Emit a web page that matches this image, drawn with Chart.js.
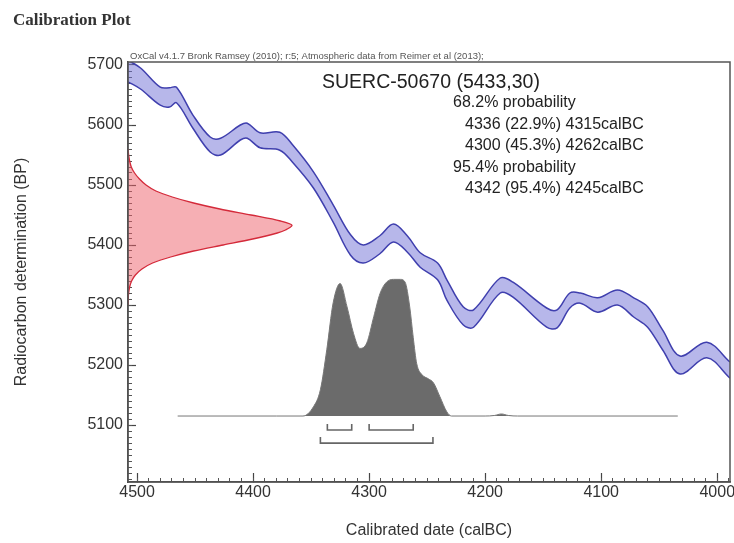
<!DOCTYPE html>
<html>
<head>
<meta charset="utf-8">
<title>Calibration Plot</title>
<script src="https://cdn.jsdelivr.net/npm/chart.js@4.4.1/dist/chart.umd.min.js"></script>
<style>
    body { margin: 0; background: #fff; }
    #wrap { width: 734px; height: 543px; }
</style>
</head>
<body>
<div id="wrap"><canvas id="calPlot" width="734" height="543"></canvas></div>
<script>
// calibration curve band (calBC, BP)
const curveYears = [4507.8, 4497, 4480, 4472, 4466, 4452, 4437, 4428, 4411, 4405, 4394, 4377, 4366, 4348, 4331, 4316, 4305, 4291, 4279, 4267, 4256, 4241, 4233, 4219, 4210, 4187, 4176, 4147, 4138, 4127, 4118, 4103, 4086, 4072, 4060, 4047, 4032, 4009, 3989];
const curveUpper = [5708, 5695, 5663, 5662, 5663, 5617, 5580, 5578, 5600, 5603, 5587, 5588, 5567, 5522, 5467, 5417, 5400, 5415, 5435, 5415, 5387, 5370, 5342, 5297, 5292, 5345, 5338, 5295, 5292, 5320, 5320, 5312, 5325, 5312, 5297, 5258, 5215, 5238, 5205];
const curveLower = [5672, 5660, 5633, 5630, 5637, 5595, 5555, 5550, 5575, 5578, 5562, 5558, 5538, 5495, 5438, 5383, 5370, 5385, 5405, 5388, 5363, 5342, 5308, 5267, 5263, 5320, 5313, 5263, 5262, 5295, 5303, 5288, 5300, 5280, 5263, 5225, 5185, 5212, 5178];

// radiocarbon measurement (relative likelihood against BP)
const likBP = [5560, 5550, 5540, 5530, 5520, 5510, 5500, 5490, 5480, 5470, 5460, 5450, 5440, 5433, 5425, 5420, 5410, 5400, 5390, 5380, 5370, 5360, 5350, 5340, 5330, 5320, 5310, 5300];
const likValue = [0, 0.004, 0.01, 0.02, 0.04, 0.07, 0.11, 0.17, 0.27, 0.40, 0.56, 0.75, 0.93, 1.0, 0.96, 0.91, 0.76, 0.58, 0.40, 0.26, 0.15, 0.085, 0.045, 0.022, 0.01, 0.004, 0.001, 0];

// calibrated date (relative probability against calBC)
const probYears = [4465, 4380, 4357, 4348, 4342, 4336.5, 4331, 4325, 4319, 4313.5, 4308, 4302, 4296, 4290.5, 4285, 4279, 4273, 4269, 4265, 4262, 4259, 4254.5, 4249, 4244.5, 4239, 4233, 4229, 4200, 4192, 4186, 4180, 4172, 4034];
const probValue = [0, 0, 0, 0.067, 0.19, 0.48, 0.82, 0.96, 0.79, 0.60, 0.49, 0.53, 0.72, 0.89, 0.97, 0.99, 0.99, 0.97, 0.79, 0.57, 0.38, 0.30, 0.27, 0.24, 0.14, 0.03, 0, 0, 0.004, 0.015, 0.004, 0, 0];

// hpd ranges
const range68 = [[4336, 4315], [4300, 4262]];
const range95 = [[4342, 4245]];

const yearTicks = [4500, 4400, 4300, 4200, 4100, 4000];
const bpTicks = [5100, 5200, 5300, 5400, 5500, 5600, 5700];

const sampleLabel = 'SUERC-50670 (5433,30)';
const resultLines = [
    { text: '68.2% probability', indent: false },
    { text: '4336 (22.9%) 4315calBC', indent: true },
    { text: '4300 (45.3%) 4262calBC', indent: true },
    { text: '95.4% probability', indent: false },
    { text: '4342 (95.4%) 4245calBC', indent: true }
];
const curveCredit = 'OxCal v4.1.7 Bronk Ramsey (2010); r:5; Atmospheric data from Reimer et al (2013);';

const BLUE = '#3f3fae';
const BLUE_FILL = 'rgba(112, 112, 214, 0.5)';
const RED = '#d42a3a';
const RED_FILL = 'rgba(238, 96, 106, 0.5)';
const GREY = '#6b6b6b';
const BRACKET = '#666';

const FONT = '"Liberation Sans", Arial, sans-serif';
Chart.defaults.font.family = FONT;
Chart.defaults.color = '#333';

function bracketSet(ranges, level, tickTop) {
    return ranges.map(r => ({
        data: [
            { x: r[0], y: tickTop }, { x: r[0], y: level },
            { x: r[1], y: level }, { x: r[1], y: tickTop }
        ],
        xAxisID: 'x',
        yAxisID: 'yProb',
        borderColor: BRACKET,
        borderWidth: 1.6,
        pointRadius: 0,
        tension: 0,
        fill: false
    }));
}

function minorTicks(step) {
    return function(scale) {
        const ticks = [];
        for (let v = Math.ceil(scale.min / step) * step; v <= scale.max; v += step) {
            ticks.push({ value: v });
        }
        scale.ticks = ticks;
    };
}

// keep tick labels from pushing the plot area in
function fixedSize(prop, size) {
    return function(s) {
        s[prop] = size;
        s.paddingLeft = 0;
        s.paddingRight = 0;
        s.paddingTop = 0;
        s.paddingBottom = 0;
    };
}

const labelPlugin = {
    id: 'calLabels',
    afterDraw(chart) {
        const { ctx, chartArea: a } = chart;
        ctx.save();
        ctx.strokeStyle = '#555';
        ctx.lineWidth = 1.5;
        ctx.strokeRect(a.left, a.top, a.right - a.left, a.bottom - a.top);

        ctx.textBaseline = 'middle';
        ctx.fillStyle = '#333';
        ctx.font = 'bold 17px "Liberation Serif", "Times New Roman", serif';
        ctx.fillText('Calibration Plot', 13, 21);

        ctx.font = '9.5px ' + FONT;
        ctx.fillStyle = '#555';
        ctx.textBaseline = 'bottom';
        ctx.fillText(curveCredit, a.left + 2, a.top - 1);

        ctx.textBaseline = 'middle';
        ctx.fillStyle = '#222';
        ctx.font = '19.5px ' + FONT;
        ctx.fillText(sampleLabel, a.left + 194, a.top + 21);

        ctx.font = '16px ' + FONT;
        resultLines.forEach((line, i) => {
            ctx.fillText(line.text, a.left + (line.indent ? 337 : 325), a.top + 41 + i * 21.5);
        });
        ctx.restore();
    }
};

const ctx = document.getElementById('calPlot').getContext('2d');
new Chart(ctx, {
    type: 'line',
    data: {
        datasets: [
            {
                label: 'curve upper',
                data: curveYears.map((x, i) => ({ x: x, y: curveUpper[i] })),
                borderColor: BLUE,
                borderWidth: 1.5,
                pointRadius: 0,
                tension: 0.35,
                fill: false
            },
            {
                label: 'curve lower',
                data: curveYears.map((x, i) => ({ x: x, y: curveLower[i] })),
                borderColor: BLUE,
                backgroundColor: BLUE_FILL,
                borderWidth: 1.5,
                pointRadius: 0,
                tension: 0.35,
                fill: '-1'
            },
            {
                label: 'likelihood',
                indexAxis: 'y',
                xAxisID: 'xLik',
                yAxisID: 'y',
                data: likBP.map((y, i) => ({ x: likValue[i], y: y })),
                borderColor: RED,
                backgroundColor: RED_FILL,
                borderWidth: 1.3,
                pointRadius: 0,
                tension: 0.3,
                fill: { value: 0 }
            },
            {
                label: 'posterior',
                xAxisID: 'x',
                yAxisID: 'yProb',
                data: probYears.map((x, i) => ({ x: x, y: probValue[i] })),
                borderColor: '#777',
                backgroundColor: GREY,
                borderWidth: 1,
                pointRadius: 0,
                cubicInterpolationMode: 'monotone',
                fill: { value: 0 }
            },
            ...bracketSet(range68, -0.101, -0.058),
            ...bracketSet(range95, -0.196, -0.152)
        ]
    },
    options: {
        responsive: false,
        animation: false,
        events: [],
        layout: { padding: { top: 62, right: 4, left: 0, bottom: 0 } },
        plugins: {
            legend: { display: false },
            tooltip: { enabled: false }
        },
        scales: {
            x: {
                type: 'linear',
                position: 'bottom',
                weight: 1,
                min: 3989,
                max: 4507.8,
                reverse: true,
                afterBuildTicks: s => { s.ticks = yearTicks.map(v => ({ value: v })); },
                afterFit: fixedSize('height', 61),
                ticks: {
                    autoSkip: false,
                    maxRotation: 0,
                    padding: 10,
                    color: '#333',
                    font: { size: 16 },
                    callback: v => String(v)
                },
                grid: { drawOnChartArea: false, tickLength: -9, tickColor: '#444', tickWidth: 1.2 },
                border: { color: '#444', width: 1.5 },
                title: {
                    display: true,
                    text: 'Calibrated date (calBC)',
                    font: { size: 16 },
                    color: '#333',
                    padding: { top: 0, bottom: 3 }
                }
            },
            xMinor: {
                type: 'linear',
                position: 'bottom',
                weight: 0,
                min: 3989,
                max: 4507.8,
                reverse: true,
                afterBuildTicks: minorTicks(10),
                afterFit: fixedSize('height', 0),
                ticks: { display: false },
                grid: { drawOnChartArea: false, tickLength: -4, tickColor: '#555', tickWidth: 1 },
                border: { display: false }
            },
            y: {
                type: 'linear',
                position: 'left',
                weight: 1,
                min: 5005,
                max: 5705,
                afterBuildTicks: s => { s.ticks = bpTicks.map(v => ({ value: v })); },
                afterFit: fixedSize('width', 128),
                ticks: {
                    autoSkip: false,
                    padding: 13,
                    color: '#333',
                    font: { size: 16 },
                    callback: v => String(v)
                },
                grid: { drawOnChartArea: false, tickLength: -8, tickColor: '#444', tickWidth: 1.2 },
                border: { color: '#444', width: 1.5 },
                title: {
                    display: true,
                    text: 'Radiocarbon determination (BP)',
                    font: { size: 16 },
                    color: '#333',
                    padding: { top: 12, bottom: 0 }
                }
            },
            yMinor: {
                type: 'linear',
                position: 'left',
                weight: 0,
                min: 5005,
                max: 5705,
                afterBuildTicks: minorTicks(10),
                afterFit: fixedSize('width', 0),
                ticks: { display: false },
                grid: { drawOnChartArea: false, tickLength: -4, tickColor: '#555', tickWidth: 1 },
                border: { display: false }
            },
            yProb: {
                type: 'linear',
                display: false,
                min: -0.478,
                max: 2.565
            },
            xLik: {
                type: 'linear',
                display: false,
                min: 0,
                max: 3.67
            }
        }
    },
    plugins: [labelPlugin]
});
</script>
</body>
</html>
